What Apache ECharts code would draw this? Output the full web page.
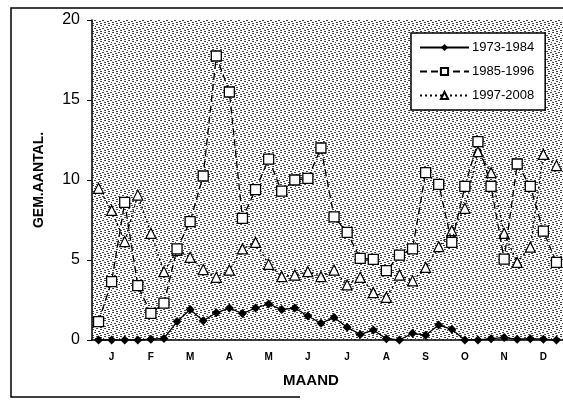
<!DOCTYPE html>
<html>
<head>
<meta charset="utf-8">
<script src="https://cdn.jsdelivr.net/npm/echarts@6/dist/echarts.min.js"></script>
<style>
  html, body { margin: 0; padding: 0; background: #fff; }
  #chart { width: 563px; height: 405px; }
</style>
</head>
<body>
<div id="chart"></div>
<script>
// maanden, elk 3 decaden
var months = ['J', 'F', 'M', 'A', 'M', 'J', 'J', 'A', 'S', 'O', 'N', 'D'];
var decades = [];
for (var m = 0; m < months.length; m++) {
    for (var d = 1; d <= 3; d++) decades.push(months[m] + d);
}
var yTicks = [0, 5, 10, 15, 20];

var s1973 = [0, 0, 0, 0, 0.05, 0.1, 1.15, 1.9, 1.2, 1.7, 2.0, 1.65,
    2.0, 2.25, 1.9, 2.0, 1.5, 1.05, 1.4, 0.8, 0.35, 0.62, 0.08, 0,
    0.42, 0.3, 0.94, 0.67, 0, 0, 0.08, 0.15, 0.05, 0.08, 0.05, 0];
var s1985 = [1.15, 3.65, 8.6, 3.4, 1.67, 2.3, 5.7, 7.4, 10.25, 17.75, 15.5, 7.6,
    9.4, 11.3, 9.3, 10.0, 10.1, 12.0, 7.7, 6.73, 5.1, 5.04, 4.33, 5.3,
    5.7, 10.46, 9.73, 6.1, 9.6, 12.4, 9.6, 5.05, 11.0, 9.6, 6.8, 4.85];
var s1997 = [9.48, 8.1, 6.15, 9.06, 6.67, 4.27, 5.6, 5.17, 4.4, 3.92, 4.37, 5.69,
    6.1, 4.73, 3.96, 4.06, 4.27, 3.96, 4.37, 3.44, 3.92, 2.96, 2.67, 4.06,
    3.7, 4.54, 5.83, 6.83, 8.23, 11.77, 10.46, 6.67, 4.85, 5.8, 11.6, 10.9];

// stippel achtergrond (gespreide streepjes)
var pat = document.createElement('canvas');
pat.width = 8; pat.height = 8;
var ctx = pat.getContext('2d');
ctx.fillStyle = '#fff';
ctx.fillRect(0, 0, 8, 8);
ctx.fillStyle = '#444';
[[0, 0], [4, 1], [2, 3], [6, 4], [0, 6], [4, 7], [7, 2], [3, 5]].forEach(function (p) {
    ctx.fillRect(p[0], p[1], 2, 1);
});

var font = '"Liberation Sans", Arial, sans-serif';
var chart = echarts.init(document.getElementById('chart'));
chart.setOption({
    backgroundColor: '#fff',
    animation: false,
    grid: {
        left: 92, right: 0, top: 20, bottom: 65,
        show: true,
        borderWidth: 0,
        backgroundColor: { image: pat, repeat: 'repeat' }
    },
    legend: {
        orient: 'vertical',
        left: 411, top: 33,
        width: 134,
        padding: [8, 11, 8, 8],
        itemGap: 11,
        itemWidth: 49,
        itemHeight: 9,
        backgroundColor: '#fff',
        borderColor: '#000',
        borderWidth: 1.5,
        borderRadius: 0,
        textStyle: { fontFamily: font, fontSize: 13, color: '#000', padding: [0, 0, 0, -2] },
        data: ['1973-1984', '1985-1996', '1997-2008']
    },
    xAxis: {
        type: 'category',
        data: decades,
        boundaryGap: true,
        axisLine: { lineStyle: { color: '#000', width: 1.5 } },
        axisTick: {
            length: 4,
            interval: function (i) { return i % 3 === 0; },
            lineStyle: { color: '#000' }
        },
        axisLabel: {
            interval: function (i) { return i % 3 === 1; },
            formatter: function (v, i) { return months[Math.floor(i / 3)]; },
            margin: 12,
            fontFamily: font,
            fontSize: 10,
            fontWeight: 'bold',
            color: '#000'
        }
    },
    yAxis: {
        type: 'value',
        min: yTicks[0],
        max: yTicks[yTicks.length - 1],
        interval: 5,
        name: 'GEM.AANTAL.',
        nameLocation: 'middle',
        nameGap: 46,
        nameTextStyle: { fontFamily: font, fontSize: 14, fontWeight: 'bold', color: '#000' },
        axisLine: { show: true, lineStyle: { color: '#000', width: 1.5 } },
        axisTick: { show: true, length: 5, lineStyle: { color: '#000' } },
        splitLine: { show: false },
        axisLabel: {
            margin: 12,
            fontFamily: font,
            fontSize: 16,
            color: '#000'
        }
    },
    graphic: [
        {
            type: 'polyline',
            shape: { points: [[300, 397], [11, 397], [11, 8], [563, 8]] },
            style: { stroke: '#000', lineWidth: 1.5, fill: null },
            z: -1
        },
        {
            type: 'text',
            left: 283, top: 373,
            style: { text: 'MAAND', fontFamily: font, fontSize: 15, fontWeight: 'bold', fill: '#000' }
        }
    ],
    series: [
        {
            name: '1973-1984',
            type: 'line',
            data: s1973,
            symbol: 'diamond',
            symbolSize: 9,
            showAllSymbol: true,
            itemStyle: { color: '#000' },
            lineStyle: { color: '#000', width: 1.3 },
            z: 3
        },
        {
            name: '1985-1996',
            type: 'line',
            data: s1985,
            symbol: 'rect',
            symbolSize: 10,
            showAllSymbol: true,
            itemStyle: { color: '#fff', borderColor: '#000', borderWidth: 1.3 },
            lineStyle: { color: '#000', width: 1.3, type: [7, 4] },
            z: 2
        },
        {
            name: '1997-2008',
            type: 'line',
            data: s1997,
            symbol: 'triangle',
            symbolSize: 10,
            showAllSymbol: true,
            itemStyle: { color: '#fff', borderColor: '#000', borderWidth: 1.2 },
            lineStyle: { color: '#000', width: 1.3, type: [2, 3] },
            z: 1
        }
    ]
});
</script>
</body>
</html>
